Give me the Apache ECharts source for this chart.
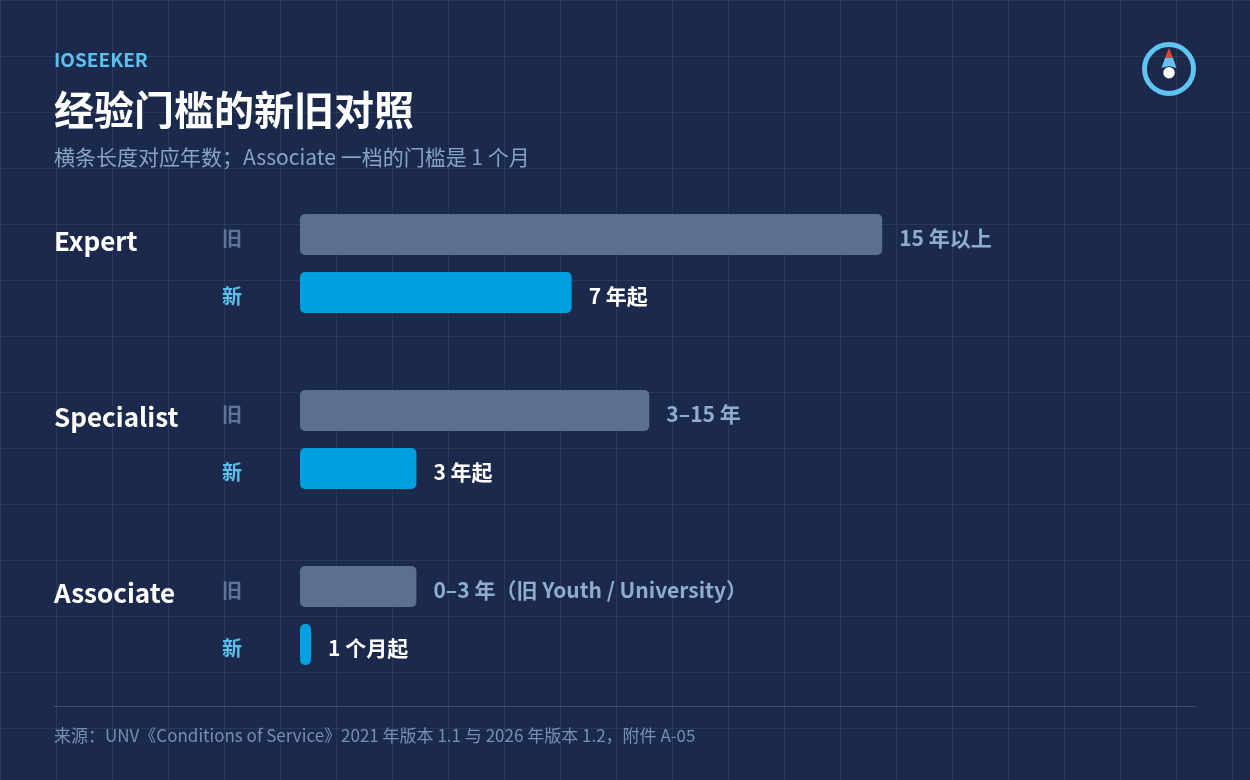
<!DOCTYPE html>
<html><head><meta charset="utf-8">
<style>
html,body{margin:0;padding:0;width:1250px;height:780px;overflow:hidden;background-color:#1b2a4c;
background-image:linear-gradient(to right,rgba(255,255,255,.065) 1px,transparent 1px),linear-gradient(to bottom,rgba(255,255,255,.065) 1px,transparent 1px);
background-size:56px 56px;background-position:0 0;}
#c{width:1250px;height:780px;}
</style>
<script src="https://cdn.jsdelivr.net/npm/echarts@6/dist/echarts.min.js"></script>
</head><body><div id="c"></div>
<script>
const FONT='"Noto Sans CJK SC","Noto Sans",sans-serif';
const categories=['Expert','Specialist','Associate'];
const oldValues=[15,9,3];
const newValues=[7,3,1/12];
const oldLabels=['15 年以上','3–15 年','0–3 年（旧 Youth / University）'];
const newLabels=['7 年起','3 年起','1 个月起'];
const oldTag='旧', newTag='新';
const eyebrow='IOSEEKER';
const titleText='经验门槛的新旧对照';
const subtitle='横条长度对应年数；Associate 一档的门槛是 1 个月';
const source='来源：UNV《Conditions of Service》2021 年版本 1.1 与 2026 年版本 1.2，附件 A-05';

const chart=echarts.init(document.getElementById('c'),null,{renderer:'canvas',width:1250,height:780});
function txt(x,y,text,size,weight,fill){return {type:'text',x,y,silent:true,style:{text,font:weight+' '+size+'px '+FONT,fill,verticalAlign:'middle'}};}
chart.setOption({
  backgroundColor:'transparent',animation:false,
  grid:{left:300,top:175.5,width:582.2,height:528},
  xAxis:{type:'value',min:0,max:15,show:false},
  yAxis:{type:'category',inverse:true,data:categories,axisLine:{show:false},axisTick:{show:false},
    axisLabel:{margin:246,align:'left',fontFamily:FONT,
      formatter:v=>`{name|${v}}{old|${oldTag}}\n{blank|}{fresh|${newTag}}`,
      rich:{
        name:{width:168,fontSize:26,fontWeight:600,color:'#ffffff',fontFamily:FONT,lineHeight:58,padding:[13,0,0,0]},
        blank:{width:168,lineHeight:58},
        old:{fontSize:20,fontWeight:700,color:'#5f7597',fontFamily:FONT,lineHeight:58,padding:[7,0,0,0]},
        fresh:{fontSize:20,fontWeight:700,color:'#5bc0eb',fontFamily:FONT,lineHeight:58,padding:[7,0,0,0]}
      }}},
  series:[
    {type:'bar',name:'旧',data:oldValues,barWidth:41,barGap:'41.5%',itemStyle:{color:'#5b6f91',borderRadius:5},
     label:{show:true,position:'right',distance:17,offset:[0,4],fontFamily:FONT,fontSize:21,fontWeight:700,color:'#8fadcf',
       formatter:p=>oldLabels[p.dataIndex]}},
    {type:'bar',name:'新',data:newValues,barWidth:41,barMinHeight:11,itemStyle:{color:'#009fdf',borderRadius:5},
     label:{show:true,position:'right',distance:17,offset:[0,4],fontFamily:FONT,fontSize:21,fontWeight:700,color:'#ffffff',
       formatter:p=>newLabels[p.dataIndex]}}
  ],
  graphic:[
    txt(54,60,eyebrow,19,700,'#5bc0eb'),
    txt(54,110,titleText,40,700,'#ffffff'),
    txt(54,157,subtitle,21,400,'#86a3c8'),
    txt(54,736,source,17,400,'#7690b4'),
    {type:'line',silent:true,shape:{x1:54,y1:706.5,x2:1196,y2:706.5},style:{stroke:'rgba(255,255,255,.18)',lineWidth:1}},
    {type:'circle',silent:true,shape:{cx:1169,cy:69,r:24.5},style:{fill:'none',stroke:'#5fc4ef',lineWidth:5}},
    {type:'polygon',silent:true,shape:{points:[[1165,58],[1173,58],[1176.5,68],[1169,66],[1161.5,68]]},style:{fill:'#5fc4ef'}},
    {type:'polygon',silent:true,shape:{points:[[1169,48],[1173,58],[1165,58]]},style:{fill:'#e0483e'}},
    {type:'circle',silent:true,shape:{cx:1169,cy:72.7,r:5.7},style:{fill:'#ffffff'}}
  ]
});
</script></body></html>
